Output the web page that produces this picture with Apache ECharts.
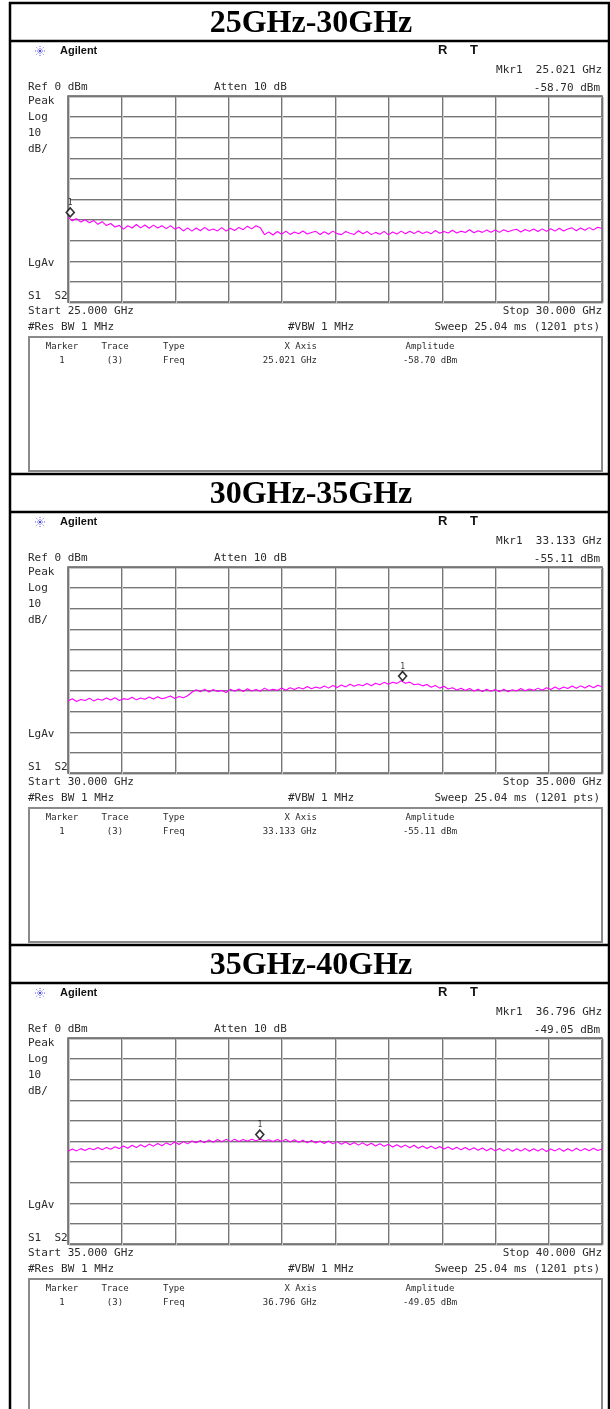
<!DOCTYPE html>
<html>
<head>
<meta charset="utf-8">
<script src="https://cdn.jsdelivr.net/npm/echarts@6/dist/echarts.min.js"></script>
<style>
  html, body { margin: 0; padding: 0; background: #ffffff; }
  #chart { width: 610px; height: 1409px; }
</style>
</head>
<body>
<div id="chart"></div>
<script>
// ---- sweep settings and marker readouts, one entry per band ----
const panelTitles = ['25GHz-30GHz', '30GHz-35GHz', '35GHz-40GHz'];
const startFreqs = [25, 30, 35];          // GHz
const stopFreqs = [30, 35, 40];           // GHz
const startLabels = ['Start 25.000 GHz', 'Start 30.000 GHz', 'Start 35.000 GHz'];
const stopLabels = ['Stop 30.000 GHz', 'Stop 35.000 GHz', 'Stop 40.000 GHz'];
const markerFreqs = [25.021, 33.133, 36.796];   // GHz
const markerAmps = [-58.70, -55.11, -49.05];    // dBm
const markerFreqLabels = ['25.021 GHz', '33.133 GHz', '36.796 GHz'];
const markerAmpLabels = ['-58.70 dBm', '-55.11 dBm', '-49.05 dBm'];
const freqStep = 0.04;                   // GHz between trace samples
const refLevel = 0;                      // dBm, top of screen
const dbPerDiv = 10;

// ---- trace samples (dBm), one every 40 MHz ----
const trace25to30 = [
  -58.8, -60.6, -59.5, -61.2, -60.1, -61.5, -60.4, -62.3, -61.0, -62.9,
  -61.9, -63.6, -62.8, -64.6, -63.0, -64.1, -62.4, -64.0, -62.6, -64.2,
  -62.7, -64.1, -63.0, -64.4, -62.9, -64.6, -63.7, -65.5, -64.0, -65.6,
  -64.1, -65.4, -63.8, -65.3, -64.6, -65.5, -63.9, -65.6, -64.2, -65.3,
  -63.8, -64.9, -63.2, -64.5, -63.0, -63.9, -67.3, -66.0, -67.5, -65.8,
  -67.1, -65.6, -67.2, -66.0, -66.9, -65.5, -67.0, -66.3, -65.7, -67.2,
  -65.9, -67.1, -65.6, -66.8, -67.3, -65.8, -66.6, -67.2, -65.4, -66.9,
  -65.8, -67.3, -66.2, -67.1, -65.7, -67.4, -66.0, -67.0, -65.6, -66.9,
  -65.7, -66.8, -65.5, -66.7, -65.9, -66.9, -65.3, -66.6, -65.8, -66.5,
  -65.2, -66.5, -65.6, -66.3, -64.9, -66.4, -65.4, -66.2, -65.0, -66.1,
  -65.1, -66.2, -64.9, -65.9, -65.2, -64.7, -66.0, -64.8, -65.7, -64.6,
  -65.8, -64.5, -65.7, -64.4, -65.6, -64.2, -65.5, -64.6, -64.0, -65.4,
  -64.1, -65.2, -63.9, -65.0, -63.7, -64.3
];
const trace30to35 = [
  -65.1, -64.0, -65.3, -64.3, -64.8, -63.7, -65.0, -64.1, -64.7, -63.6,
  -64.6, -63.5, -64.8, -63.9, -64.3, -63.2, -64.5, -63.6, -64.2, -63.1,
  -64.1, -63.0, -64.0, -63.4, -62.6, -63.8, -62.9, -63.5, -62.5, -60.8,
  -59.6, -60.6, -59.3, -60.7, -59.5, -60.4, -59.9, -60.9, -59.4, -60.3,
  -59.2, -60.4, -59.1, -60.2, -59.5, -60.3, -58.8, -60.0, -59.3, -59.9,
  -58.7, -59.8, -58.6, -59.5, -58.5, -59.2, -58.0, -59.1, -58.3, -58.9,
  -57.8, -58.8, -57.5, -58.5, -57.3, -58.2, -56.9, -57.9, -57.0, -57.6,
  -56.6, -57.6, -56.4, -57.2, -56.0, -56.9, -55.9, -56.5, -55.2, -56.4,
  -55.9, -57.2, -56.8, -57.7, -57.0, -58.4, -57.5, -58.8, -57.9, -59.2,
  -58.6, -59.7, -58.9, -60.0, -59.0, -60.2, -59.4, -60.4, -59.3, -60.3,
  -59.5, -60.5, -59.3, -60.6, -59.6, -60.2, -59.0, -60.1, -59.2, -59.9,
  -58.8, -59.8, -58.6, -59.5, -58.3, -59.3, -58.2, -59.0, -57.8, -58.9,
  -57.7, -58.7, -57.5, -58.6, -57.4, -58.1
];
const trace35to40 = [
  -55.0, -53.9, -54.8, -53.7, -54.6, -53.5, -54.3, -53.2, -54.2, -53.1,
  -54.0, -52.8, -53.7, -52.4, -53.5, -52.1, -53.2, -51.8, -52.9, -51.5,
  -52.5, -51.2, -52.3, -50.9, -51.9, -50.5, -51.7, -50.3, -51.4, -50.0,
  -50.9, -49.8, -50.8, -49.5, -50.6, -49.3, -50.4, -49.2, -50.3, -49.1,
  -50.2, -49.3, -50.1, -49.2, -49.9, -49.1, -50.0, -49.4, -50.2, -49.3,
  -50.3, -49.2, -50.5, -49.4, -50.6, -49.6, -50.9, -49.8, -51.0, -50.0,
  -51.2, -50.0, -51.4, -50.3, -51.6, -50.5, -51.8, -50.7, -52.0, -50.9,
  -52.2, -51.1, -52.4, -51.3, -52.6, -51.6, -52.9, -51.8, -53.0, -52.0,
  -53.3, -52.1, -53.5, -52.4, -53.6, -52.5, -53.8, -52.7, -53.9, -52.9,
  -54.1, -53.0, -54.3, -53.2, -54.4, -53.3, -54.5, -53.4, -54.7, -53.5,
  -54.8, -53.6, -54.9, -53.7, -55.0, -53.8, -54.9, -53.6, -55.0, -53.8,
  -54.9, -53.7, -55.1, -53.9, -54.8, -53.6, -55.0, -53.8, -54.9, -53.5,
  -54.8, -53.6, -54.7, -53.5, -54.6, -53.9
];
const traces = [trace25to30, trace30to35, trace35to40];

// ---- page layout ----
const PITCH = 471;               // vertical distance between bands
const GRID_L = 68, GRID_W = 534, GRID_T = 96, GRID_H = 206;
const SCREEN_L = 28, SCREEN_R = 602;
const MONO = '"DejaVu Sans Mono", monospace';
const INK = '#2b2b2b';

const chart = echarts.init(document.getElementById('chart'), null, { renderer: 'canvas' });

const grids = [], xAxes = [], yAxes = [], series = [], graphics = [];

function txt(text, x, y, font, align, color) {
  graphics.push({
    type: 'text', silent: true, z: 10,
    style: {
      text: text, x: x, y: y, font: font, fill: color || INK,
      textAlign: align || 'left', align: align || 'left',
      textVerticalAlign: 'middle', verticalAlign: 'middle'
    }
  });
}
function hline(x1, x2, y, w, color) {
  graphics.push({ type: 'line', silent: true, z: 20,
    shape: { x1: x1, y1: y, x2: x2, y2: y },
    style: { stroke: color, lineWidth: w } });
}
function vline(x, y1, y2, w, color) {
  graphics.push({ type: 'line', silent: true, z: 20,
    shape: { x1: x, y1: y1, x2: x, y2: y2 },
    style: { stroke: color, lineWidth: w } });
}
function starburst(cx, cy) {
  for (let a = 0; a < 8; a++) {
    const t = a * Math.PI / 4;
    graphics.push({ type: 'line', silent: true, z: 10,
      shape: { x1: cx + 2 * Math.cos(t), y1: cy + 2 * Math.sin(t),
               x2: cx + 5.5 * Math.cos(t), y2: cy + 5.5 * Math.sin(t) },
      style: { stroke: '#5b5bf5', lineWidth: 1, lineDash: [1, 1] } });
  }
  graphics.push({ type: 'circle', silent: true, z: 10,
    shape: { cx: cx, cy: cy, r: 1.3 }, style: { fill: '#4a4af0' } });
}

function axisPair(gridIndex, k, color) {
  xAxes.push({
    gridIndex: gridIndex, type: 'value',
    min: startFreqs[k], max: stopFreqs[k], interval: (stopFreqs[k] - startFreqs[k]) / 10,
    axisLabel: { show: false }, axisTick: { show: false }, axisLine: { show: false },
    splitLine: { show: true, lineStyle: { color: color, width: 1 } }
  });
  yAxes.push({
    gridIndex: gridIndex, type: 'value',
    min: refLevel - 10 * dbPerDiv, max: refLevel, interval: dbPerDiv,
    axisLabel: { show: false }, axisTick: { show: false }, axisLine: { show: false },
    splitLine: { show: true, lineStyle: { color: color, width: 1 } }
  });
}

for (let k = 0; k < 3; k++) {
  const dy = k * PITCH;

  // soft shadow graticule, one pixel right and below
  grids.push({ left: GRID_L + 1, top: GRID_T + 1 + dy, width: GRID_W, height: GRID_H,
               show: false, outerBoundsMode: 'none' });
  axisPair(grids.length - 1, k, '#c9c9c9');

  // main graticule
  grids.push({ left: GRID_L, top: GRID_T + dy, width: GRID_W, height: GRID_H,
               show: true, borderColor: '#5e5e5e', borderWidth: 1.5,
               backgroundColor: 'transparent', outerBoundsMode: 'none' });
  const gi = grids.length - 1;
  axisPair(gi, k, '#767676');

  const pts = traces[k].map((v, i) => [startFreqs[k] + i * freqStep, v]);
  series.push({
    type: 'line', xAxisIndex: gi, yAxisIndex: gi, data: pts,
    showSymbol: false, symbol: 'none', silent: true, animation: false,
    lineStyle: { color: '#ff00ff', width: 1.1 }, z: 5
  });
  series.push({
    type: 'scatter', xAxisIndex: gi, yAxisIndex: gi,
    data: [[markerFreqs[k], markerAmps[k]]],
    symbol: 'diamond', symbolSize: [8, 9], symbolOffset: [0, -4.5],
    itemStyle: { color: '#ffffff', borderColor: '#000000', borderWidth: 1.6 },
    label: { show: true, formatter: '1', position: 'top', distance: 0,
             fontSize: 8, fontFamily: MONO, color: '#000000' },
    silent: true, animation: false, z: 8
  });

  // band title row
  txt(panelTitles[k], 311, 24 + dy, 'bold 32px "Liberation Serif", "Times New Roman", serif', 'center', '#000000');
  hline(9, 610, 3 + dy, 2.5, '#000000');
  hline(9, 610, 41 + dy, 2.5, '#000000');

  // analyzer header
  starburst(40, 51 + dy);
  txt('Agilent', 60, 51 + dy, 'bold 11px "Liberation Sans", Arial, sans-serif', 'left', '#111111');
  txt('R', 438, 50 + dy, 'bold 13px "Liberation Sans", Arial, sans-serif', 'left', '#111111');
  txt('T', 470, 50 + dy, 'bold 13px "Liberation Sans", Arial, sans-serif', 'left', '#111111');
  txt('Mkr1  ' + markerFreqLabels[k], SCREEN_R, 70 + dy, '11px ' + MONO, 'right');
  txt(markerAmpLabels[k], SCREEN_R - 2, 88 + dy, '11px ' + MONO, 'right');
  txt('Ref 0 dBm', SCREEN_L, 87 + dy, '11px ' + MONO, 'left');
  txt('Atten 10 dB', 214, 87 + dy, '11px ' + MONO, 'left');
  txt('Peak', SCREEN_L, 101 + dy, '11px ' + MONO, 'left');
  txt('Log', SCREEN_L, 117 + dy, '11px ' + MONO, 'left');
  txt('10', SCREEN_L, 133 + dy, '11px ' + MONO, 'left');
  txt('dB/', SCREEN_L, 149 + dy, '11px ' + MONO, 'left');
  txt('LgAv', SCREEN_L, 263 + dy, '11px ' + MONO, 'left');
  txt('S1  S2', SCREEN_L, 296 + dy, '11px ' + MONO, 'left');
  txt(startLabels[k], SCREEN_L, 311 + dy, '11px ' + MONO, 'left');
  txt(stopLabels[k], SCREEN_R, 311 + dy, '11px ' + MONO, 'right');
  txt('#Res BW 1 MHz', SCREEN_L, 327 + dy, '11px ' + MONO, 'left');
  txt('#VBW 1 MHz', 288, 327 + dy, '11px ' + MONO, 'left');
  txt('Sweep 25.04 ms (1201 pts)', SCREEN_R - 2, 327 + dy, '11px ' + MONO, 'right');

  // marker table
  graphics.push({ type: 'rect', silent: true, z: 10,
    shape: { x: 29, y: 337 + dy, width: 573, height: 134 },
    style: { fill: 'none', stroke: '#8a8a8a', lineWidth: 2 } });
  const TF = '9px ' + MONO;
  txt('Marker', 62, 347 + dy, TF, 'center');
  txt('1', 62, 361 + dy, TF, 'center');
  txt('Trace', 115, 347 + dy, TF, 'center');
  txt('(3)', 115, 361 + dy, TF, 'center');
  txt('Type', 163, 347 + dy, TF, 'left');
  txt('Freq', 163, 361 + dy, TF, 'left');
  txt('X Axis', 317, 347 + dy, TF, 'right');
  txt(markerFreqLabels[k], 317, 361 + dy, TF, 'right');
  txt('Amplitude', 430, 347 + dy, TF, 'center');
  txt(markerAmpLabels[k], 430, 361 + dy, TF, 'center');
}

// outer frame
vline(10, 2, 1409, 2.5, '#000000');
vline(609, 2, 1409, 2.5, '#000000');

chart.setOption({
  animation: false,
  backgroundColor: '#ffffff',
  grid: grids,
  xAxis: xAxes,
  yAxis: yAxes,
  series: series,
  graphic: { elements: graphics }
});
</script>
</body>
</html>
